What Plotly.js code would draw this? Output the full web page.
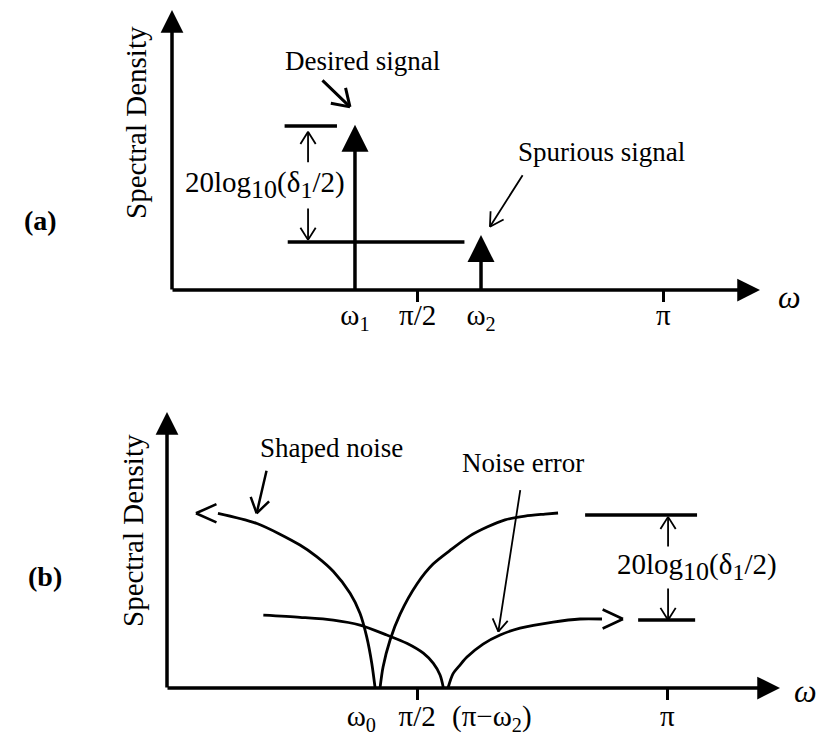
<!DOCTYPE html>
<html><head><meta charset="utf-8">
<script src="https://cdn.plot.ly/plotly-3.0.1.min.js"></script>
<style>html,body{margin:0;padding:0;background:#fff}</style>
</head><body>
<div id="chart" style="width:818px;height:738px"></div>
<script>
// ---------- Panel (a): line spectrum ----------
const spikeFreq  = [1.170, 1.976];   // ω1, ω2 (rad)
const spikeLevel = [5.90, 1.96];     // desired, spurious (arb. units)
const levelA     = [5.86, 1.71];     // reference levels
const levelAFrom = [0.72, 0.74];
const levelATo   = [1.055, 1.87];
const tickValsA  = [spikeFreq[0], Math.PI/2, spikeFreq[1], Math.PI];
const tickTextA  = ['ω<sub>1</sub>', 'π/2', 'ω<sub>2</sub>', 'π'];

// ---------- Panel (b): noise spectra ----------
const shapedLeftW  = [0.320, 0.565, 0.835, 0.940, 1.045, 1.150, 1.212, 1.254, 1.286, 1.307];
const shapedLeftS  = [6.33, 5.96, 5.18, 4.76, 4.22, 3.43, 2.71, 1.86, 0.90, 0.00];
const shapedRightW = [1.338, 1.357, 1.401, 1.464, 1.570, 1.671, 1.790, 1.903, 2.010, 2.123, 2.249, 2.374, 2.456];
const shapedRightS = [0.00, 0.76, 1.74, 2.68, 3.77, 4.49, 5.04, 5.51, 5.83, 6.09, 6.23, 6.30, 6.34];
const errLeftW  = [0.605, 0.835, 1.045, 1.212, 1.380, 1.506, 1.610, 1.673, 1.715, 1.736];
const errLeftS  = [2.64, 2.56, 2.46, 2.28, 1.92, 1.62, 1.26, 0.89, 0.47, 0.00];
const errRightW = [1.765, 1.796, 1.840, 1.884, 1.985, 2.092, 2.217, 2.425, 2.594, 2.732];
const errRightS = [0.00, 0.51, 0.83, 1.12, 1.59, 1.92, 2.17, 2.39, 2.50, 2.50];
const levelB     = [6.27, 2.46];
const levelBFrom = [2.626, 2.959];
const levelBTo   = [3.329, 3.317];
const tickValsB  = [1.22, Math.PI/2, 2.04, Math.PI];
const tickTextB  = ['ω<sub>0</sub>', 'π/2', '(π−ω<sub>2</sub>)', 'π'];

// ---------- helpers ----------
const W = 818, H = 738;
const SERIF = 'Liberation Serif, Times New Roman, serif';
function segs(from, to, lvl) {
  const x = [], y = [];
  lvl.forEach((v, i) => { x.push(from[i], to[i], null); y.push(v, v, null); });
  return {x, y};
}
function pointer(xr, yr, x, y, dx, dy, o) {
  const len = Math.hypot(dx, dy), ux = dx / len, uy = dy / len;
  const h = o.half * Math.PI / 180;
  const base = {xref: xr, yref: yr, x: x, y: y, text: '', borderpad: 0,
    showarrow: true, arrowhead: 0, arrowwidth: o.width, arrowcolor: 'black', standoff: 0,
    axref: 'pixel', ayref: 'pixel', xshift: o.xshift || 0, yshift: o.yshift || 0};
  const out = [];
  if (o.shaft !== false) out.push(Object.assign({}, base, {ax: dx, ay: dy}));
  [1, -1].forEach(s => {
    const c = Math.cos(s * h), sn = Math.sin(s * h);
    out.push(Object.assign({}, base, {ax: o.wing * (ux * c - uy * sn), ay: o.wing * (ux * sn + uy * c)}));
  });
  return out;
}
function axisArrow(xr, yr, x, y) {
  return {xref: xr, yref: yr, x: x, y: y, ax: 0, ay: 0, axref: xr, ayref: yr, text: '',
    borderpad: 0, showarrow: true, arrowhead: 2, arrowwidth: 3.5,
    arrowsize: 1.3, arrowcolor: 'black', standoff: 0};
}
function label(xr, yr, x, y, txt, size, extra) {
  return Object.assign({xref: xr, yref: yr, x: x, y: y, text: txt, showarrow: false,
    xanchor: 'center', yanchor: 'middle', font: {family: SERIF, size: size, color: 'black'}}, extra || {});
}
const DB = '20log<sub><span style="font-size:26px">10</span></sub>(δ<sub><span style="font-size:24px">1</span></sub>/2)';

const BLACK = 'black';
const stemX = [], stemY = [];
spikeFreq.forEach((f, i) => { stemX.push(f, f, null); stemY.push(0, spikeLevel[i] - 0.4, null); });
const la = segs(levelAFrom, levelATo, levelA);
const lb = segs(levelBFrom, levelBTo, levelB);

const curveLine = {color: BLACK, width: 2.8, shape: 'spline', smoothing: 0.8};
const traces = [
  {x: stemX, y: stemY, mode: 'lines', line: {color: BLACK, width: 3.5}, xaxis: 'x', yaxis: 'y', cliponaxis: false, hoverinfo: 'skip'},
  {x: spikeFreq, y: spikeLevel, mode: 'markers', marker: {symbol: 'arrow-up', size: 27, color: BLACK, line: {width: 0}}, xaxis: 'x', yaxis: 'y', cliponaxis: false},
  {x: la.x, y: la.y, mode: 'lines', line: {color: BLACK, width: 3.5}, xaxis: 'x', yaxis: 'y', cliponaxis: false},
  {x: shapedLeftW, y: shapedLeftS, mode: 'lines', line: curveLine, xaxis: 'x2', yaxis: 'y2', cliponaxis: false},
  {x: shapedRightW, y: shapedRightS, mode: 'lines', line: curveLine, xaxis: 'x2', yaxis: 'y2', cliponaxis: false},
  {x: errLeftW, y: errLeftS, mode: 'lines', line: curveLine, xaxis: 'x2', yaxis: 'y2', cliponaxis: false},
  {x: errRightW, y: errRightS, mode: 'lines', line: curveLine, xaxis: 'x2', yaxis: 'y2', cliponaxis: false},
  {x: lb.x, y: lb.y, mode: 'lines', line: {color: BLACK, width: 3.5}, xaxis: 'x2', yaxis: 'y2', cliponaxis: false}
];

const thin = {width: 1.8, wing: 15, half: 32};
const ann = [].concat(
  [axisArrow('x', 'y', 0, 10), axisArrow('x', 'y', 3.76, 0),
   axisArrow('x2', 'y2', 0, 10), axisArrow('x2', 'y2', 3.85, 0)],
  [label('x', 'y', 1.221, 8.18, 'Desired signal', 27),
   label('x', 'y', 2.749, 4.93, 'Spurious signal', 27),
   label('x', 'y', 0.595, 3.75, DB, 29)],
  pointer('x', 'y', 1.138, 6.54, -28, -27, {width: 3, wing: 20, half: 33}),
  pointer('x', 'y', 2.033, 2.26, 33, -52, {width: 1.8, wing: 16, half: 30}),
  pointer('x', 'y', 0.870, 5.65, 0, 31, thin),
  pointer('x', 'y', 0.870, 1.79, 0, -32, thin),
  [label('x2', 'y2', 1.030, 8.70, 'Shaped noise', 27),
   label('x2', 'y2', 2.233, 8.15, 'Noise error', 27),
   label('x2', 'y2', 3.329, 4.38, DB, 29)],
  pointer('x2', 'y2', 0.563, 6.33, 10, -43, {width: 2.5, wing: 18, half: 33}),
  pointer('x2', 'y2', 2.081, 2.04, 22, -142, thin),
  pointer('x2', 'y2', 3.147, 6.20, 0, 30, thin),
  pointer('x2', 'y2', 3.147, 2.46, 0, -32, thin),
  pointer('x2', 'y2', shapedLeftW[0], shapedLeftS[0], 1, 0, {width: 2.6, wing: 23, half: 24, shaft: false, xshift: -22}),
  pointer('x2', 'y2', errRightW[errRightW.length - 1], errRightS[errRightS.length - 1], -1, 0, {width: 2.6, wing: 23, half: 25, shaft: false, xshift: 21}),
  [label('paper', 'paper', 136 / W, 1 - 123 / H, 'Spectral Density', 29, {textangle: -90}),
   label('paper', 'paper', 133 / W, 1 - 531 / H, 'Spectral Density', 29, {textangle: -90}),
   label('paper', 'paper', 789 / W, 1 - 297 / H, '<i>ω</i>', 32),
   label('paper', 'paper', 805 / W, 1 - 691 / H, '<i>ω</i>', 32),
   label('paper', 'paper', 40 / W, 1 - 220 / H, '<b>(a)</b>', 28),
   label('paper', 'paper', 45 / W, 1 - 576 / H, '<b>(b)</b>', 28)]
);

const tickFont = {family: SERIF, size: 29, color: BLACK};
const hidden = {showgrid: false, zeroline: false, showline: false, showticklabels: false, ticks: '', fixedrange: true};
const layout = {
  width: W, height: H, margin: {l: 0, r: 0, t: 0, b: 0},
  paper_bgcolor: 'white', plot_bgcolor: 'white', showlegend: false,
  xaxis: {domain: [172 / W, 760 / W], range: [0, 3.76], anchor: 'y', showgrid: false, zeroline: false, showline: false,
    tickmode: 'array', tickvals: tickValsA, ticktext: tickTextA, ticks: '', tickfont: tickFont, fixedrange: true,
    ticklabelstandoff: 5,
    minor: {tickmode: 'array', tickvals: [Math.PI / 2, Math.PI], ticks: 'outside', ticklen: 11, tickwidth: 3, tickcolor: BLACK, showgrid: false}},
  yaxis: Object.assign({domain: [1 - 290 / H, 1 - 10 / H], range: [0, 10], anchor: 'x'}, hidden),
  xaxis2: {domain: [167 / W, 780 / W], range: [0, 3.85], anchor: 'y2', showgrid: false, zeroline: false, showline: false,
    tickmode: 'array', tickvals: tickValsB, ticktext: tickTextB, ticks: '', tickfont: tickFont, fixedrange: true,
    ticklabelstandoff: 8,
    minor: {tickmode: 'array', tickvals: [Math.PI / 2, Math.PI], ticks: 'outside', ticklen: 11, tickwidth: 3, tickcolor: BLACK, showgrid: false}},
  yaxis2: Object.assign({domain: [1 - 688 / H, 1 - 412 / H], range: [0, 10], anchor: 'x2'}, hidden),
  annotations: ann
};
Plotly.newPlot('chart', traces, layout, {staticPlot: true, displayModeBar: false}).then(gd => {
  // arrow-only annotations carry an empty text node; drop those nodes
  gd.querySelectorAll('text.annotation-text').forEach(t => { if (!t.textContent.trim()) t.remove(); });
});
</script>
</body></html>
